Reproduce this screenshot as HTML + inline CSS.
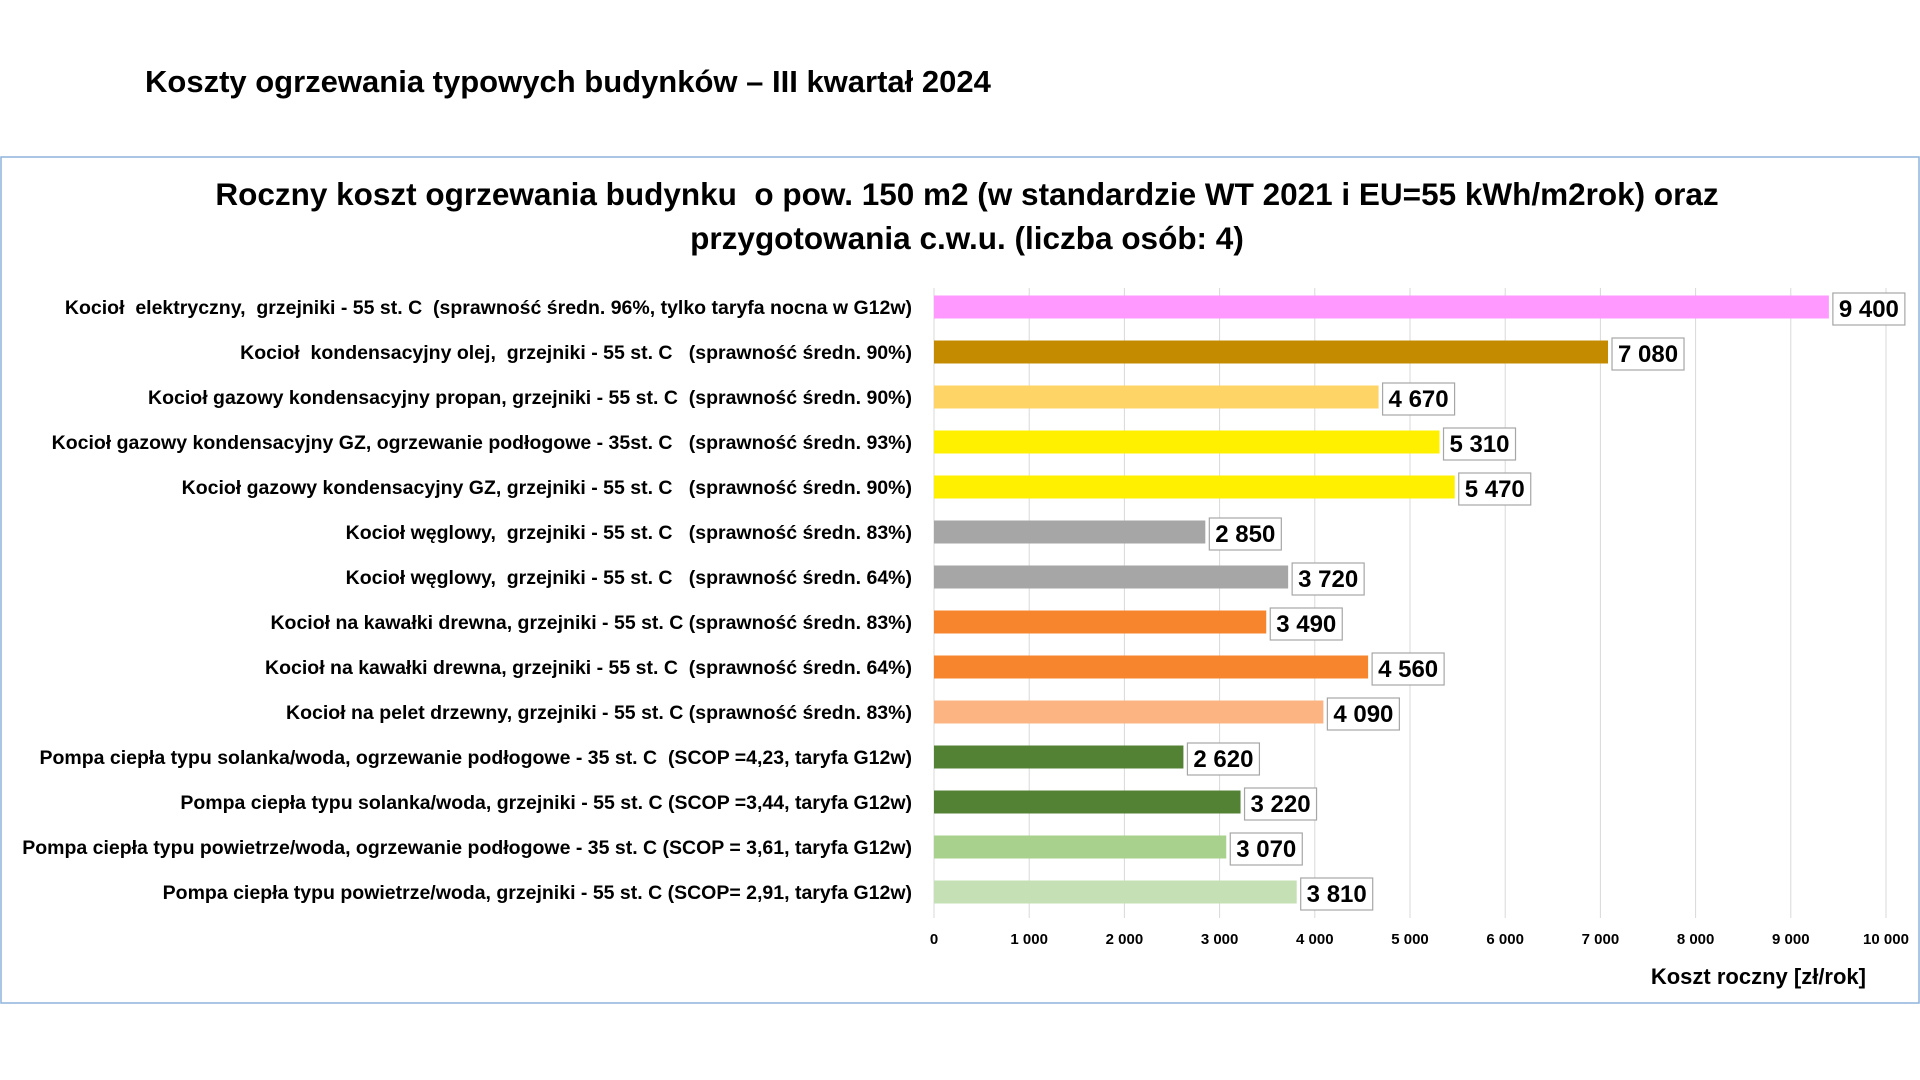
<!DOCTYPE html>
<html><head><meta charset="utf-8"><style>
html,body{margin:0;padding:0;background:#fff;width:1920px;height:1080px;overflow:hidden;font-family:"Liberation Sans Narrow","Liberation Sans",sans-serif;}
svg text{font-family:"Liberation Sans Narrow","Liberation Sans",sans-serif;font-weight:bold;white-space:pre;}
</style></head><body>
<svg id="chart" width="1920" height="1080" xmlns="http://www.w3.org/2000/svg">
<text x="145" y="92" font-size="31" fill="#000">Koszty ogrzewania typowych budynków – III kwartał 2024</text>
<rect x="1" y="157" width="1918" height="846" fill="#fff" stroke="#8fb4dc" stroke-width="1.5"/>
<text x="967" y="205" font-size="31.5" text-anchor="middle">Roczny koszt ogrzewania budynku  o pow. 150 m2 (w standardzie WT 2021 i EU=55 kWh/m2rok) oraz</text>
<text x="967" y="249" font-size="31.5" text-anchor="middle">przygotowania c.w.u. (liczba osób: 4)</text>
<g id="grid"></g><g id="bars"></g><g id="ticks"></g>
<text x="1866" y="984" font-size="22" text-anchor="end">Koszt roczny [zł/rok]</text>
</svg>
<script>
const categories=[
"Kocioł  elektryczny,  grzejniki - 55 st. C  (sprawność średn. 96%, tylko taryfa nocna w G12w)",
"Kocioł  kondensacyjny olej,  grzejniki - 55 st. C   (sprawność średn. 90%)",
"Kocioł gazowy kondensacyjny propan, grzejniki - 55 st. C  (sprawność średn. 90%)",
"Kocioł gazowy kondensacyjny GZ, ogrzewanie podłogowe - 35st. C   (sprawność średn. 93%)",
"Kocioł gazowy kondensacyjny GZ, grzejniki - 55 st. C   (sprawność średn. 90%)",
"Kocioł węglowy,  grzejniki - 55 st. C   (sprawność średn. 83%)",
"Kocioł węglowy,  grzejniki - 55 st. C   (sprawność średn. 64%)",
"Kocioł na kawałki drewna, grzejniki - 55 st. C (sprawność średn. 83%)",
"Kocioł na kawałki drewna, grzejniki - 55 st. C  (sprawność średn. 64%)",
"Kocioł na pelet drzewny, grzejniki - 55 st. C (sprawność średn. 83%)",
"Pompa ciepła typu solanka/woda, ogrzewanie podłogowe - 35 st. C  (SCOP =4,23, taryfa G12w)",
"Pompa ciepła typu solanka/woda, grzejniki - 55 st. C (SCOP =3,44, taryfa G12w)",
"Pompa ciepła typu powietrze/woda, ogrzewanie podłogowe - 35 st. C (SCOP = 3,61, taryfa G12w)",
"Pompa ciepła typu powietrze/woda, grzejniki - 55 st. C (SCOP= 2,91, taryfa G12w)"];
const values=[9400,7080,4670,5310,5470,2850,3720,3490,4560,4090,2620,3220,3070,3810];
const valueLabels=["9 400","7 080","4 670","5 310","5 470","2 850","3 720","3 490","4 560","4 090","2 620","3 220","3 070","3 810"];
const colors=["#ff99ff","#c58b00","#ffd466","#fff000","#fff000","#a6a6a6","#a6a6a6","#f7852e","#f7852e","#fbb482","#548235","#548235","#a9d18e","#c5e0b4"];
const tickValues=[0,1000,2000,3000,4000,5000,6000,7000,8000,9000,10000];
const tickLabels=["0","1 000","2 000","3 000","4 000","5 000","6 000","7 000","8 000","9 000","10 000"];
const NS="http://www.w3.org/2000/svg";
const x0=934,x1=1886,xMax=10000,yTop=288,yBot=918,row0=307,rowStep=45,barH=23;
const xs=v=>x0+(v/xMax)*(x1-x0);
const ys=i=>row0+i*rowStep;
function mk(tag,attrs,parent){const e=document.createElementNS(NS,tag);for(const k in attrs)e.setAttribute(k,attrs[k]);parent.appendChild(e);return e;}
const grid=document.getElementById('grid'),bars=document.getElementById('bars'),ticks=document.getElementById('ticks');
tickValues.forEach((v,i)=>{
 const l=mk('line',{x1:xs(v),x2:xs(v),y1:yTop,y2:yBot,stroke:'#d9d9d9','stroke-width':1},grid);
 
 
 const t=mk('text',{x:xs(v),y:944,'font-size':15,'text-anchor':'middle'},ticks);
 t.textContent=tickLabels[i];
 
 
});
categories.forEach((c,i)=>{
 const y=ys(i);
 const lb=mk('text',{x:912,y:y+7,'font-size':19.5,'text-anchor':'end'},bars);
 lb.textContent=c;
 
 
 const r=mk('rect',{x:x0,y:y-barH/2,width:xs(values[i])-x0,height:barH,fill:colors[i]},bars);
 
 
 const bx=xs(values[i])+4;
 const b=mk('rect',{x:bx,y:y-14,width:72,height:32,fill:'#fff',stroke:'#a6a6a6','stroke-width':1.2},bars);
 
 
 const vt=mk('text',{x:bx+36,y:y+10,'font-size':24,'text-anchor':'middle'},bars);
 vt.textContent=valueLabels[i];
 
 
});
</script>
</body></html>
